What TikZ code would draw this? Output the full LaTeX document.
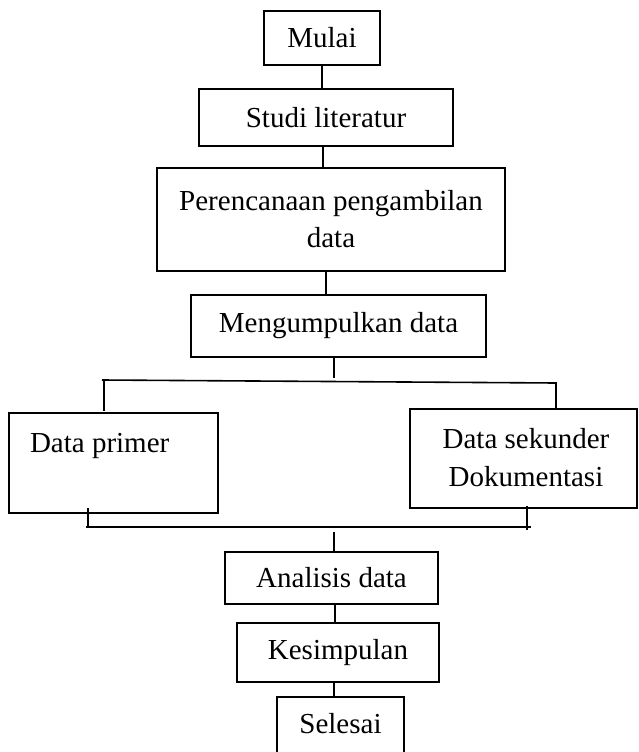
\documentclass[tikz,border=0pt]{standalone}
\usepackage{fontspec}
\setmainfont{Liberation Serif}
\begin{document}
\begin{tikzpicture}[x=1pt,y=-1pt,line width=1.6pt,
  box/.style={draw,rectangle,inner sep=0pt,outer sep=0pt,align=center,font=\fontsize{29}{37}\selectfont},
  txt/.style={inner sep=0pt,outer sep=0pt,align=center,font=\fontsize{29}{38}\selectfont}]
\useasboundingbox (0,0) rectangle (638,752);
\clip (0,0) rectangle (638,752);
% boxes
\node[box,minimum width=116pt,minimum height=54pt] (mulai) at (322,38) {Mulai};
\node[box,minimum width=254pt,minimum height=57pt] (studi) at (326,117.5) {Studi literatur};
\node[box,minimum width=348pt,minimum height=103pt] (perenc) at (331,219.5) {Perencanaan pengambilan\\data};
\node[box,minimum width=295pt,minimum height=62pt] (meng) at (338.5,326) {Mengumpulkan data};
\node[box,minimum width=209pt,minimum height=100pt] (primer) at (113.5,463) {};
\node[txt,anchor=base west] (primertxt) at (30,452) {Data primer};
\node[box,minimum width=227pt,minimum height=99pt] (sekunder) at (523.5,458.5) {};
\node[txt] (sekundertxt) at (526,458) {Data sekunder\\Dokumentasi};
\node[box,minimum width=213pt,minimum height=52pt] (analisis) at (331.5,578) {Analisis data};
\node[box,minimum width=202pt,minimum height=59pt] (kesimpulan) at (338,652.5) {Kesimpulan};
\node[box,minimum width=127pt,minimum height=63pt] (selesai) at (340.5,728.5) {};
\node[txt] (selesaitxt) at (340.5,724) {Selesai};
% connectors
\draw (mulai.south) -- (mulai.south |- studi.north);
\draw ([xshift=-3pt]studi.south) -- ([xshift=-3pt]studi.south |- perenc.north);
\draw ([xshift=-5pt]perenc.south) -- ([xshift=-5pt]perenc.south |- meng.north);
\coordinate (mstem) at (334,378);
\draw ([xshift=-4.5pt]meng.south) -- (mstem);
\coordinate (bl) at (102,380);
\coordinate (br) at (556,383);
\draw (bl) -- (br) -- (br |- sekunder.north);
\coordinate (bld) at (104,380);
\coordinate (blde) at (104,411);
\draw (bld) -- (blde);
\coordinate (cl) at (86,527);
\coordinate (cr) at (531,527);
\draw (cl) -- (cr);
\coordinate (tl) at (88,508);
\draw (tl) -- (tl |- cl);
\coordinate (tr) at (527,506);
\coordinate (tre) at (527,530);
\draw (tr) -- (tre);
\coordinate (sd) at (334,532);
\draw (sd) -- (sd |- analisis.north);
\draw ([xshift=3.5pt]analisis.south) -- ([xshift=3.5pt]analisis.south |- kesimpulan.north);
\draw ([xshift=-4pt]kesimpulan.south) -- ([xshift=-4pt]kesimpulan.south |- selesai.north);
\end{tikzpicture}
\end{document}
